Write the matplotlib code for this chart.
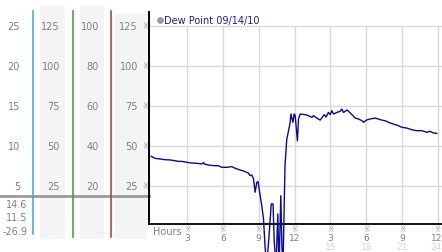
import matplotlib
matplotlib.use("Agg")
import matplotlib.pyplot as plt
from matplotlib.transforms import blended_transform_factory as blend

# --- data ---
hours = [0.0, 0.33, 0.75, 1.17, 1.59, 2.0, 2.29, 2.57, 2.99, 3.4, 3.8, 4.24, 4.38, 4.5,
         4.94, 5.36, 5.63, 5.9, 6.33, 6.75, 7.03, 7.45, 7.72, 8.14, 8.28, 8.42, 8.56,
         8.7, 8.84, 8.95, 9.12, 9.26, 9.4, 9.55, 9.7, 9.85, 10.05, 10.2, 10.3, 10.45,
         10.6, 10.7, 10.85, 10.95, 11.05, 11.2, 11.35, 11.5, 11.63, 11.7, 11.86, 11.97,
         12.05, 12.24, 12.33, 12.47, 12.9, 13.17, 13.45, 13.58, 13.86, 14.14, 14.28,
         14.48, 14.64, 14.83, 14.98, 15.12, 15.26, 15.54, 15.82, 15.96, 16.1, 16.38,
         16.52, 16.8, 17.07, 17.36, 17.64, 17.78, 18.0, 18.33, 18.74, 19.0, 19.3,
         19.58, 19.86, 20.28, 20.7, 20.98, 21.4, 21.8, 22.2, 22.65, 23.07, 23.35,
         23.6, 23.9]
dew_point = [43.4, 42.1, 41.7, 41.25, 41.1, 40.6, 40.2, 40.2, 39.6, 39.2, 39.0, 38.6,
             39.4, 38.4, 37.75, 37.5, 37.5, 36.5, 36.5, 36.9, 35.9, 34.8, 34.2, 32.9,
             31.3, 31.7, 29.5, 20.9, 27.1, 27.5, 18.75, 12.5, 4.2, -15, -22, -8, 13.6,
             13.6, -10, -25, 7.3, -26.9, 18.75, -15, -20, 37.5, 54, 59.4, 64.6, 69.8,
             64.6, 69.8, 69.0, 53, 66.7, 69.8, 69.4, 68.75, 67.7, 68.75, 67.3, 66,
             67.3, 69.4, 67.9, 70.8, 69.4, 71.9, 69.8, 70.8, 71.5, 72.9, 70.8, 72.3,
             71.5, 69.4, 67.3, 66.7, 65.6, 64.6, 66, 66.7, 67.3, 66.7, 66, 65.6, 64.6,
             63.5, 62.5, 61.5, 61, 60, 59.4, 59.4, 58.4, 59, 58, 57.7]

y_ticks = [125, 100, 75, 50, 25]
col1_labels = ["25", "20", "15", "10", "5"]
col2_labels = ["125", "100", "75", "50", "25"]
col3_labels = ["100", "80", "60", "40", "20"]
col4_labels = ["125", "100", "75", "50", "25"]
summary_labels = ["14.6", "11.5", "-26.9"]
x_ticks = [3, 6, 9, 12, 15, 18, 21, 24]
x_labels = ["3", "6", "9", "12", "3", "6", "9", "12"]
x_labels2 = ["", "", "", "", "15", "18", "21", "24"]

W, H = 442, 253
fig = plt.figure(figsize=(W / 100, H / 100), dpi=100)
fig.patch.set_facecolor("white")

# overlay in pixel coords for the side panel
deco = fig.add_axes([0, 0, 1, 1], zorder=0)
deco.set_xlim(0, W)
deco.set_ylim(H, 0)
deco.axis("off")

ax = fig.add_axes([149 / W, (H - 225) / H, (W - 149) / W, (225 - 13) / H], zorder=1)
ax.set_facecolor("none")
ax.set_xlim(-0.18, 24.34)
ax.set_ylim(1.06, 133.56)
for s in ["top", "right"]:
    ax.spines[s].set_visible(False)
for s in ["left", "bottom"]:
    ax.spines[s].set_linewidth(1.3)
    ax.spines[s].set_color("black")
ax.set_xticks([])
ax.set_yticks([])

grid_c = "#d9d9d9"
ax.hlines(y_ticks, -0.18, 24.34, color=grid_c, lw=1, zorder=1)
ax.vlines(x_ticks, 1.06, 125, color=grid_c, lw=1, zorder=1)

ax.plot(hours, dew_point, color="#0a0a96", lw=1.0, clip_on=False, zorder=3)

# legend
deco.scatter([160], [20.5], s=14, color="#a0a0a0", edgecolor="#909090", zorder=5)
deco.text(164.5, 21, "Dew Point 09/14/10", color="#1c1ca8", fontsize=7,
          va="center", ha="left")

# side panel bands and coloured scale lines
for x0, x1, y0 in [(40, 65, 7), (80, 104, 7), (115, 147, 15)]:
    deco.fill_between([x0, x1], y0, 240, color="#f4f4f4", lw=0, zorder=0)
for xc, col, y1 in [(33, "#3aa0d0", 235), (72.7, "#33a033", 238), (111, "#b03030", 238)]:
    deco.plot([xc, xc], [12, y1], color=col, lw=1.1, zorder=2)
deco.plot([0, 149], [197, 197], color="#9a9a9a", lw=2, zorder=1)
deco.plot([149, 149], [13, 225], color="black", lw=1.3, zorder=2)

tr = blend(deco.transData, ax.transData)
gray = "#808080"
mark = "#999999"
for v, a, b, c, d in zip(y_ticks, col1_labels, col2_labels, col3_labels, col4_labels):
    deco.text(20, v, a, transform=tr, ha="right", va="center", fontsize=7, color=gray)
    deco.text(60, v, b, transform=tr, ha="right", va="center", fontsize=7, color=gray)
    deco.text(99, v, c, transform=tr, ha="right", va="center", fontsize=7, color=gray)
    deco.text(138, v, d, transform=tr, ha="right", va="center", fontsize=7, color=gray)
    deco.text(145.5, v, "※", transform=tr, ha="center", va="center", fontsize=5.5,
              color=mark)

for i, lab in enumerate(summary_labels):
    deco.text(27.5, 205 + 13.3 * i, lab, ha="right", va="center", fontsize=7, color=gray)

# x axis labels
trx = blend(ax.transData, deco.transData)
deco.text(153, 232, "Hours", ha="left", va="center", fontsize=7, color=gray)
for h, l1, l2 in zip(x_ticks, x_labels, x_labels2):
    deco.text(h, 230, "※", transform=trx, ha="center", va="center", fontsize=5.5,
              color=mark)
    xo = -0.15 if h == 24 else 0
    deco.text(h + xo, 239, l1, transform=trx, ha="center", va="center", fontsize=6.5,
              color=gray)
    if l2:
        deco.text(h + xo, 247.5, l2, transform=trx, ha="center", va="center",
                  fontsize=6.5, color="#d4d4d4")

fig.savefig("out.png", dpi=100)
